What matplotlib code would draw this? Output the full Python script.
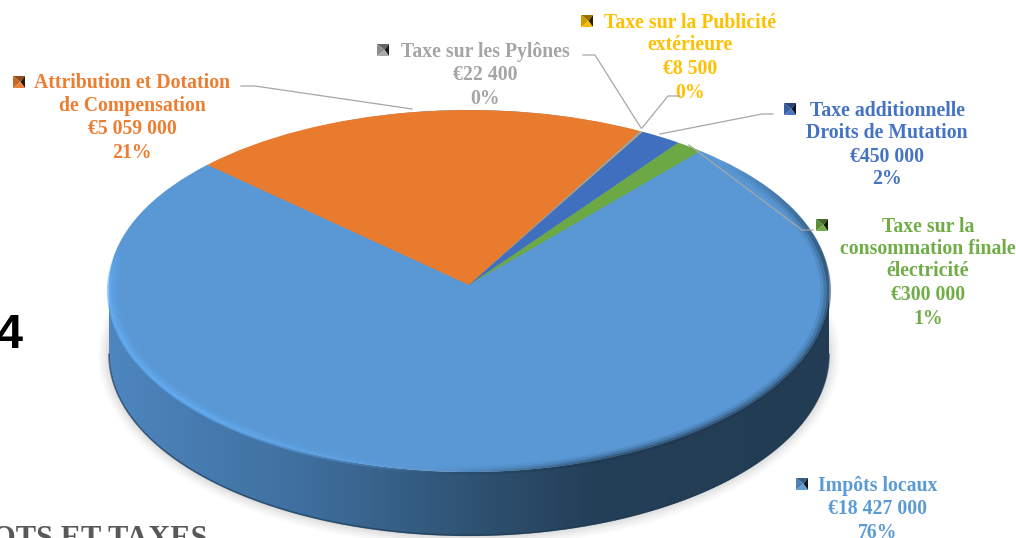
import numpy as np
import matplotlib
matplotlib.use('Agg')
import matplotlib.pyplot as plt
from matplotlib.patches import Ellipse, PathPatch, Polygon
from matplotlib.path import Path
from matplotlib.collections import LineCollection
from matplotlib.colors import LinearSegmentedColormap, to_rgb

names = ["Impôts locaux",
         "Attribution et Dotation\nde Compensation",
         "Taxe sur les Pylônes",
         "Taxe sur la Publicité\nextérieure",
         "Taxe additionnelle\nDroits de Mutation",
         "Taxe sur la\nconsommation finale\nélectricité"]
values = [18427000, 5059000, 22400, 8500, 450000, 300000]
slice_colors = ["#5A98D5", "#E97B2E", "#A5A5A5", "#F5B800", "#3F6FBE", "#6CA843"]
text_colors = ["#5B9BD5", "#ED7D31", "#A5A5A5", "#FFC000", "#4472C4", "#70AD47"]

W, H = 1016, 538
cx, cy, rx, ry = 469, 285, 360, 175   # pie hub and radii, pixels
disc_ry = 181 / ry                    # the disc is a bit taller than the pie, perspective
disc_y = -6 / ry
depth = 64 / ry

fig = plt.figure(figsize=(W / 100, H / 100), dpi=100)
ax = fig.add_axes([0, 0, 1, 1])

# shadow under the disc
for grow, al in zip([11, 9, 7, 5, 3, 1], [.025, .03, .04, .05, .06, .08]):
    ax.add_patch(Ellipse((0, disc_y - depth), 2 + 2 * grow / rx, 2 * disc_ry + 2 * grow / ry,
                         color='#777777', alpha=al, lw=0, zorder=1))

# side wall with left to right gradient
t = np.linspace(np.pi, 2 * np.pi, 300)
wall_x = np.r_[np.cos(t), np.cos(t[::-1])]
wall_y = np.r_[disc_y - depth + disc_ry * np.sin(t), disc_y + disc_ry * np.sin(t[::-1])]
wall = PathPatch(Path(np.c_[wall_x, wall_y]), fc='none', ec='none', transform=ax.transData)
ax.add_patch(wall)
wall_cmap = LinearSegmentedColormap.from_list(
    'wall', [(0, '#4E86BF'), (.27, '#3F6F9E'), (.5, '#2F5373'), (.67, '#243F58'), (1, '#223C53')])
img = ax.imshow(np.linspace(0, 1, 512).reshape(1, -1), cmap=wall_cmap, aspect='auto',
                extent=(-1, 1, -1.6, .1), zorder=2)
img.set_clip_path(wall)
ax.plot(np.cos(t), disc_y - depth + disc_ry * np.sin(t) + .004, color='#1D3850', lw=1.2,
        alpha=.6, zorder=2.2)

# top of the pie
ax.add_patch(Ellipse((0, disc_y), 2, 2 * disc_ry, color=slice_colors[0], lw=0, zorder=2.5))
ax.pie(values, colors=slice_colors, startangle=50, counterclock=False, radius=1,
       wedgeprops={'linewidth': 0, 'zorder': 3})
ax.set_aspect('auto')
ax.set_xlim(-cx / rx, (W - cx) / rx)
ax.set_ylim((cy - H) / ry, cy / ry)
ax.axis('off')

# bevel along the rim, light on the left, dark on the right
deg = np.linspace(0, 360, 720)
segs = []
cols = []
for i in range(len(deg) - 1):
    d = deg[i]
    if 165 < d < 264:
        k = min((d - 165) / 12, 1) * min((264 - d) / 40, 1)
        rgb, a = to_rgb('#64B0F8'), k
    elif d >= 264:
        k = min((d - 264) / 30, 1)
        rgb, a = to_rgb('#1F3A52'), .8 * k
    elif d < 45:
        k = min((45 - d) / 35, 1)
        rgb, a = to_rgb('#1F3A52'), .8 * k
    else:
        continue
    a0, a1 = np.radians(deg[i]), np.radians(deg[i + 1])
    segs.append([(np.cos(a0), disc_y + disc_ry * np.sin(a0)),
                 (np.cos(a1), disc_y + disc_ry * np.sin(a1))])
    cols.append((*rgb, a))
segs = np.array(segs)
for lw, mult, shrink in [(7, .15, .99), (5, .3, .995), (3, .55, 1.0)]:
    s2 = segs.copy()
    s2[..., 0] *= shrink
    s2[..., 1] = disc_y + (s2[..., 1] - disc_y) * shrink
    lc = LineCollection(s2, linewidths=lw,
                        colors=[(c[0], c[1], c[2], c[3] * mult) for c in cols], zorder=4)
    ax.add_collection(lc)

# pixel overlay for labels, leader lines and keys
ov = fig.add_axes([0, 0, 1, 1], facecolor='none')
ov.set_xlim(0, W)
ov.set_ylim(H, 0)
ov.axis('off')

label_font = dict(family='Liberation Serif', fontweight='bold', fontsize=14.2,
                  ha='center', va='baseline')
label_x = [878, 132, 485, 690, 887, 928]
label_y = [[484, 507, 531],
           [81, 104, 128, 151],
           [50, 73, 97],
           [21, 44, 68, 91],
           [109, 131, 155, 178],
           [225, 247, 270, 294, 317]]
key_xy = [(796, 478), (13, 76), (377, 44), (581, 15), (784, 103), (816, 219)]
leaders = [None,
           [(241, 86), (255, 86), (412, 109)],
           [(583, 55), (595, 55), (641, 128)],
           [(680, 96), (668, 96), (642, 128)],
           [(773, 114), (762, 114), (660, 134)],
           [(813, 230), (802, 230), (689, 145)]]

total = sum(values)
for i, name in enumerate(names):
    lines = name.split('\n') + ['€{:,}'.format(values[i]).replace(',', ' '),
                                '{:.0f}%'.format(100 * values[i] / total)]
    for s, y in zip(lines, label_y[i]):
        ov.text(label_x[i], y + 6.5, s, color=text_colors[i], **label_font)
    if leaders[i]:
        xs, ys = zip(*leaders[i])
        ov.plot(xs, ys, color='#A6A6A6', lw=0.9, zorder=5)
    # bevelled legend key
    x0, y0 = key_xy[i]
    s = 12
    c = np.array(to_rgb(slice_colors[i]))
    m = (x0 + s / 2 + 1.5, y0 + s / 2)
    ov.add_patch(Polygon([(x0, y0), (x0 + s, y0), m], fc=c * .62, lw=0))
    ov.add_patch(Polygon([(x0, y0), (x0, y0 + s), m], fc=c * .85, lw=0))
    ov.add_patch(Polygon([(x0 + s, y0), (x0 + s, y0 + s), m], fc=c * .18, lw=0))
    ov.add_patch(Polygon([(x0, y0 + s), (x0 + s, y0 + s), m], fc=c * .95 + .05, lw=0))

# bits of the surrounding page cut by the crop
ov.text(22, 335, "4", family='Liberation Sans', fontweight='bold', fontsize=35,
        ha='right', va='center', color='black')
ov.text(208, 547, "OTS ET TAXES", family='Liberation Serif', fontweight='bold', fontsize=22,
        ha='right', va='baseline', color='#595959')

fig.savefig('out.png', dpi=100)
